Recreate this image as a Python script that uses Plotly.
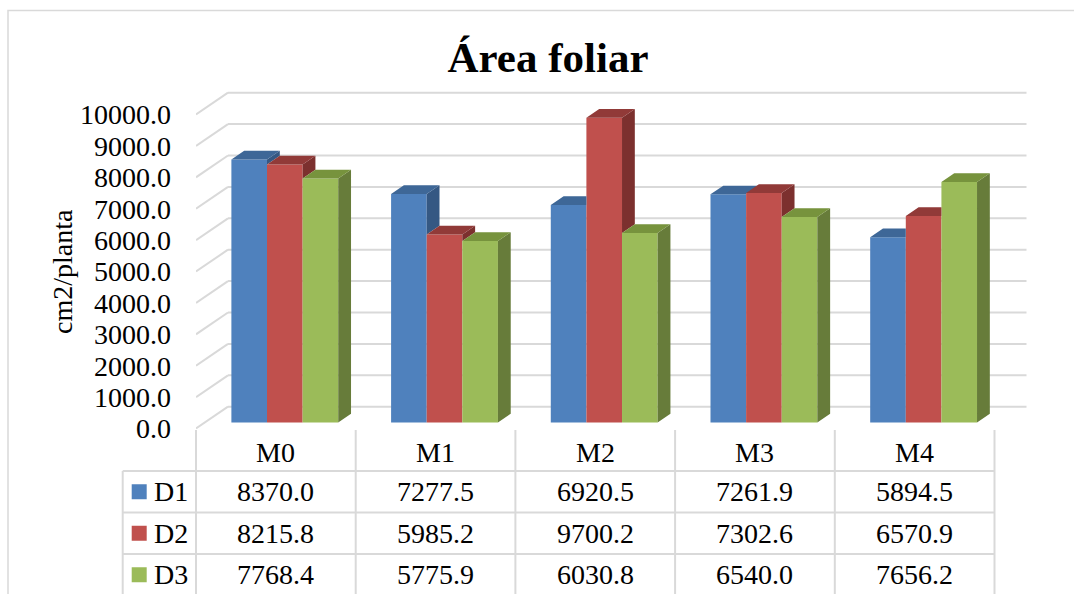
import plotly.graph_objects as go

# ---- data ----
categories = ["M0", "M1", "M2", "M3", "M4"]
series_names = ["D1", "D2", "D3"]
d1_values = [8370.0, 7277.5, 6920.5, 7261.9, 5894.5]
d2_values = [8215.8, 5985.2, 9700.2, 7302.6, 6570.9]
d3_values = [7768.4, 5775.9, 6030.8, 6540.0, 7656.2]
y_ticks = [0, 1000, 2000, 3000, 4000, 5000, 6000, 7000, 8000, 9000, 10000]
chart_title = "Área foliar"
y_title = "cm2/planta"

series_values = [d1_values, d2_values, d3_values]

# ---- styling ----
FONT = "Liberation Serif"
front_colors = ["#4F81BD", "#C0504D", "#9BBB59"]
top_colors = ["#3E6797", "#913A38", "#77933D"]
side_colors = ["#355883", "#7C302E", "#677C3A"]
GRID = "#d9d9d9"

# ---- page geometry (pixels) ----
W, H = 1074, 594
L = 196            # plot area starts at the front edge of the side wall
S = 159.7          # pixels per category
Y0 = 428.5         # pixel row of value 0 on the front plane
K = 0.0314         # pixels per unit of value

x_range = [0, (W - L) / S]
y_range = [-(H - Y0) / K, Y0 / K]


def px_x(u):
    return L + u * S


def paper_x(px):
    return (px - L) / (W - L)


def paper_y(py):
    return 1 - py / H


# depth of the 3-D box, converted to axis units
depth_dx = 32 / S
depth_dy = 21.8 / K
front_dx, front_dy = 0.28 * depth_dx, 0.28 * depth_dy    # bar front plane
side_dx, side_dy = 0.40 * depth_dx, 0.40 * depth_dy      # bar thickness
bar_w = 0.223

fig = go.Figure()

# front faces of the bars
for s, (name, vals) in enumerate(zip(series_names, series_values)):
    fig.add_trace(go.Bar(
        x=[i + 0.5 + front_dx for i in range(len(categories))],
        y=vals,
        base=front_dy,
        width=bar_w,
        offset=(s - 1.5) * bar_w,
        marker=dict(color=front_colors[s], line=dict(width=0)),
        name=name,
        showlegend=False,
        hoverinfo="skip",
    ))

# side and top faces, hidden where the next bar of the group covers them
for s, vals in enumerate(series_values):
    side_x, side_y, top_x, top_y = [], [], [], []
    for i, v in enumerate(vals):
        xl = i + 0.5 + front_dx + (s - 1.5) * bar_w
        xr = xl + bar_w
        b = front_dy
        t = front_dy + v
        tn = front_dy + series_values[s + 1][i] if s + 1 < len(series_values) else None

        lo = max(b, tn) if tn is not None else b
        if lo < t:
            pts = [(xr, lo), (xr + side_dx, lo + side_dy),
                   (xr + side_dx, t + side_dy), (xr, t), (xr, lo)]
            side_x += [p[0] for p in pts] + [None]
            side_y += [p[1] for p in pts] + [None]

        if tn is None or tn <= t:
            pts = [(xl, t), (xl + side_dx, t + side_dy),
                   (xr + side_dx, t + side_dy), (xr, t), (xl, t)]
        else:
            yc = min(tn, t + side_dy)
            xe = xr + side_dx * (yc - t) / side_dy
            pts = [(xl, t), (xl + side_dx, t + side_dy), (xr + side_dx, t + side_dy),
                   (xe, yc), (xr, yc), (xr, t), (xl, t)]
        top_x += [p[0] for p in pts] + [None]
        top_y += [p[1] for p in pts] + [None]

    for xs, ys, col in ((side_x, side_y, side_colors[s]), (top_x, top_y, top_colors[s])):
        fig.add_trace(go.Scatter(
            x=xs, y=ys, mode="none", fill="toself", fillcolor=col,
            showlegend=False, hoverinfo="skip",
        ))

shapes = []

# back wall gridlines and side wall diagonals
n_cat = len(categories)
for v in y_ticks:
    shapes.append(dict(type="line", xref="x", yref="y", layer="below",
                       x0=depth_dx, y0=v + depth_dy, x1=n_cat + depth_dx, y1=v + depth_dy,
                       line=dict(color=GRID, width=2)))
    shapes.append(dict(type="line", xref="x", yref="y", layer="below",
                       x0=0, y0=v, x1=depth_dx, y1=v + depth_dy,
                       line=dict(color=GRID, width=2)))

# data table below the plot
table_left = 122.7
header_top = 430
rows_top = 471
row_h = 41.5
col_px = [px_x(k) for k in range(n_cat + 1)]

for cx in col_px:
    shapes.append(dict(type="line", xref="paper", yref="paper",
                       x0=paper_x(cx), x1=paper_x(cx),
                       y0=paper_y(header_top), y1=paper_y(H + 5),
                       line=dict(color=GRID, width=2)))
shapes.append(dict(type="line", xref="paper", yref="paper",
                   x0=paper_x(table_left), x1=paper_x(table_left),
                   y0=paper_y(rows_top), y1=paper_y(H + 5),
                   line=dict(color=GRID, width=2)))
for r in range(len(series_names) + 1):
    yy = rows_top + r * row_h
    shapes.append(dict(type="line", xref="paper", yref="paper",
                       x0=paper_x(table_left), x1=paper_x(col_px[-1]),
                       y0=paper_y(yy), y1=paper_y(yy),
                       line=dict(color=GRID, width=2)))

# legend keys inside the table
key = 15
for s in range(len(series_names)):
    cy = rows_top + (s + 0.5) * row_h
    shapes.append(dict(type="rect", xref="paper", yref="paper",
                       x0=paper_x(131.7), x1=paper_x(131.7 + key),
                       y0=paper_y(cy - key / 2), y1=paper_y(cy + key / 2),
                       fillcolor=front_colors[s], line=dict(width=0)))

# outer chart border
shapes.append(dict(type="rect", xref="paper", yref="paper",
                   x0=paper_x(8), x1=paper_x(W + 10),
                   y0=paper_y(10.5), y1=paper_y(H + 10),
                   line=dict(color=GRID, width=1.5), fillcolor="rgba(0,0,0,0)"))

annotations = []
txt_font = dict(family=FONT, size=28, color="black")

for i, c in enumerate(categories):
    annotations.append(dict(text=c, xref="paper", yref="paper",
                            x=paper_x(px_x(i + 0.5)), y=paper_y(452),
                            xanchor="center", yanchor="middle", showarrow=False, font=txt_font))

for s, (name, vals) in enumerate(zip(series_names, series_values)):
    cy = rows_top + (s + 0.5) * row_h
    annotations.append(dict(text=name, xref="paper", yref="paper",
                            x=paper_x(152), y=paper_y(cy),
                            xanchor="left", yanchor="middle", showarrow=False, font=txt_font))
    for i, v in enumerate(vals):
        annotations.append(dict(text=f"{v:.1f}", xref="paper", yref="paper",
                                x=paper_x(px_x(i + 0.5)), y=paper_y(cy),
                                xanchor="center", yanchor="middle", showarrow=False, font=txt_font))

annotations.append(dict(text=y_title, xref="paper", yref="paper",
                        x=paper_x(62), y=paper_y(272), textangle=-90,
                        xanchor="center", yanchor="middle", showarrow=False, font=txt_font))

fig.update_layout(
    width=W, height=H,
    margin=dict(l=L, r=0, t=0, b=0),
    paper_bgcolor="white", plot_bgcolor="white",
    barmode="overlay",
    title=dict(text=chart_title, xref="container", yref="container",
               x=548 / W, y=1 - 57 / H, xanchor="center", yanchor="middle",
               font=dict(family=FONT, size=43, color="black", weight="bold")),
    xaxis=dict(range=x_range, visible=False, fixedrange=True),
    yaxis=dict(range=y_range, tickmode="array", tickvals=y_ticks, tickformat=".1f",
               showgrid=False, zeroline=False, showline=False, ticks="",
               ticklabelstandoff=24, tickfont=txt_font, fixedrange=True),
    shapes=shapes,
    annotations=annotations,
    showlegend=False,
)

fig.write_html("out.html")
